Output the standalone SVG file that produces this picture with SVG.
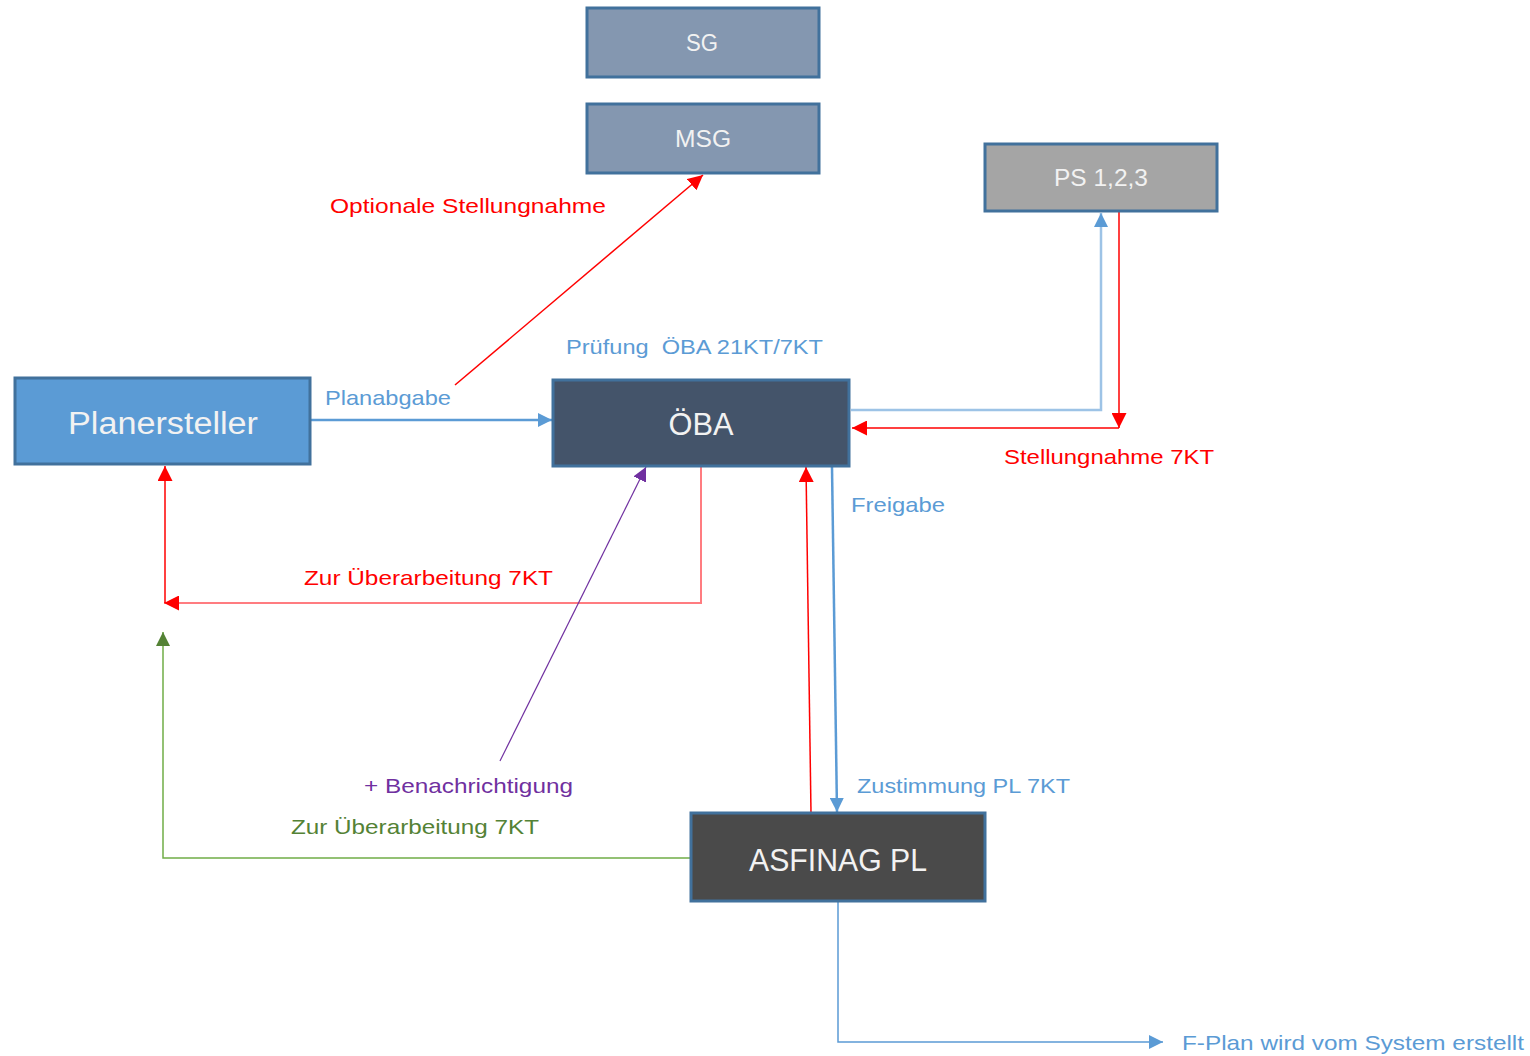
<svg xmlns="http://www.w3.org/2000/svg" width="1530" height="1056" viewBox="0 0 1530 1056">
<defs>
<style>
.box{stroke:#41719C;stroke-width:3}
.nt{font-family:"Liberation Sans",Arial,sans-serif;fill:#F2F2F2;text-anchor:middle}
.lb{font-family:"Liberation Sans",Arial,sans-serif;font-size:21px}
.ln{fill:none}
</style>
<marker id="aBlue" viewBox="0 0 10 10" refX="10" refY="5" markerWidth="14" markerHeight="14" markerUnits="userSpaceOnUse" orient="auto"><path d="M0,0 L10,5 L0,10 z" fill="#5B9BD5"/></marker>
<marker id="aRed" viewBox="0 0 10 10" refX="10" refY="5" markerWidth="15" markerHeight="15" markerUnits="userSpaceOnUse" orient="auto"><path d="M0,0 L10,5 L0,10 z" fill="#FF0000"/></marker>
<marker id="aGreen" viewBox="0 0 10 10" refX="10" refY="5" markerWidth="14" markerHeight="14" markerUnits="userSpaceOnUse" orient="auto"><path d="M0,0 L10,5 L0,10 z" fill="#548235"/></marker>
<marker id="aPurple" viewBox="0 0 10 10" refX="10" refY="5" markerWidth="14" markerHeight="14" markerUnits="userSpaceOnUse" orient="auto"><path d="M0,0 L10,5 L0,10 z" fill="#7030A0"/></marker>
</defs>
<rect width="1530" height="1056" fill="#FFFFFF"/>

<g id="connectors">
<line class="ln" x1="311" y1="420" x2="552" y2="420" stroke="#5B9BD5" stroke-width="2.5" marker-end="url(#aBlue)"/>
<line class="ln" x1="455" y1="385" x2="703" y2="175" stroke="#FF0000" stroke-width="1.5" marker-end="url(#aRed)"/>
<polyline class="ln" points="851,410 1101,410 1101,213" stroke="#9DC3E6" stroke-width="2.5" marker-end="url(#aBlue)"/>
<line class="ln" x1="1119" y1="212" x2="1119" y2="428" stroke="#FF0000" stroke-width="1.5" marker-end="url(#aRed)"/>
<line class="ln" x1="1119" y1="428" x2="852" y2="428" stroke="#FF0000" stroke-width="1.5" marker-end="url(#aRed)"/>
<polyline class="ln" points="701,467 701,603 164,603" stroke="#FF7C80" stroke-width="2" marker-end="url(#aRed)"/>
<line class="ln" x1="165" y1="603" x2="165" y2="466" stroke="#FF0000" stroke-width="1.5" marker-end="url(#aRed)"/>
<polyline class="ln" points="690,858 163,858 163,632" stroke="#70AD47" stroke-width="1.5" marker-end="url(#aGreen)"/>
<line class="ln" x1="500" y1="761" x2="646" y2="467" stroke="#7030A0" stroke-width="1.2" marker-end="url(#aPurple)"/>
<line class="ln" x1="811" y1="813" x2="806" y2="467" stroke="#FF0000" stroke-width="1.5" marker-end="url(#aRed)"/>
<line class="ln" x1="832" y1="467" x2="837" y2="812" stroke="#5B9BD5" stroke-width="2.5" marker-end="url(#aBlue)"/>
<polyline class="ln" points="838,902 838,1042 1163,1042" stroke="#5B9BD5" stroke-width="1.5" marker-end="url(#aBlue)"/>
</g>

<g id="node-sg">
<rect class="box" x="587" y="8" width="232" height="69" fill="#8497B0"/>
<text class="nt" x="702" y="51" font-size="23" textLength="32" lengthAdjust="spacingAndGlyphs">SG</text>
</g>
<g id="node-msg">
<rect class="box" x="587" y="104" width="232" height="69" fill="#8497B0"/>
<text class="nt" x="703" y="147" font-size="23" textLength="56" lengthAdjust="spacingAndGlyphs">MSG</text>
</g>
<g id="node-ps">
<rect class="box" x="985" y="144" width="232" height="67" fill="#A5A5A5"/>
<text class="nt" x="1101" y="186" font-size="23" textLength="94" lengthAdjust="spacingAndGlyphs">PS 1,2,3</text>
</g>
<g id="node-planersteller">
<rect class="box" x="15" y="378" width="295" height="86" fill="#5B9BD5"/>
<text class="nt" x="163" y="434" font-size="31" textLength="190" lengthAdjust="spacingAndGlyphs">Planersteller</text>
</g>
<g id="node-oeba">
<rect class="box" x="553" y="380" width="296" height="86" fill="#44546A"/>
<text class="nt" x="701" y="435" font-size="31" textLength="65" lengthAdjust="spacingAndGlyphs">ÖBA</text>
</g>
<g id="node-asfinag">
<rect class="box" x="691" y="813" width="294" height="88" fill="#4A4A4A"/>
<text class="nt" x="838" y="871" font-size="31" textLength="178" lengthAdjust="spacingAndGlyphs">ASFINAG PL</text>
</g>

<g id="labels">
<text class="lb" x="330" y="213" fill="#FF0000" textLength="276" lengthAdjust="spacingAndGlyphs">Optionale Stellungnahme</text>
<text class="lb" x="566" y="354" fill="#5B9BD5" textLength="257" lengthAdjust="spacingAndGlyphs" xml:space="preserve">Prüfung  ÖBA 21KT/7KT</text>
<text class="lb" x="325" y="405" fill="#5B9BD5" textLength="126" lengthAdjust="spacingAndGlyphs">Planabgabe</text>
<text class="lb" x="1004" y="464" fill="#FF0000" textLength="210" lengthAdjust="spacingAndGlyphs">Stellungnahme 7KT</text>
<text class="lb" x="851" y="512" fill="#5B9BD5" textLength="94" lengthAdjust="spacingAndGlyphs">Freigabe</text>
<text class="lb" x="304" y="585" fill="#FF0000" textLength="249" lengthAdjust="spacingAndGlyphs">Zur Überarbeitung 7KT</text>
<text class="lb" x="364" y="793" fill="#7030A0" textLength="209" lengthAdjust="spacingAndGlyphs">+ Benachrichtigung</text>
<text class="lb" x="291" y="834" fill="#548235" textLength="248" lengthAdjust="spacingAndGlyphs">Zur Überarbeitung 7KT</text>
<text class="lb" x="857" y="793" fill="#5B9BD5" textLength="213" lengthAdjust="spacingAndGlyphs">Zustimmung PL 7KT</text>
<text class="lb" x="1182" y="1050" fill="#5B9BD5" textLength="342" lengthAdjust="spacingAndGlyphs">F-Plan wird vom System erstellt</text>
</g>
</svg>
